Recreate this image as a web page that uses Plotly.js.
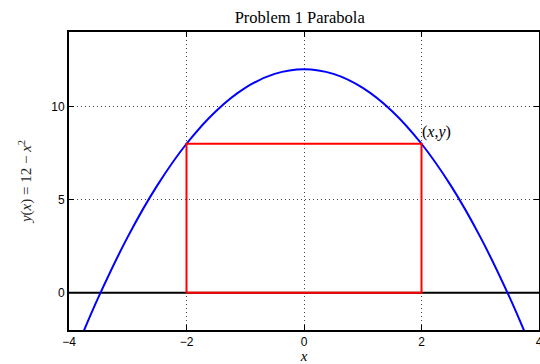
<!DOCTYPE html>
<html><head><meta charset="utf-8">
<script src="https://cdn.plot.ly/plotly-3.0.1.min.js"></script>
<style>html,body{margin:0;padding:0;background:#fff}#chart{width:540px;height:364px}</style>
</head><body><div id="chart"></div>
<script>
// Parabola points
const curveX = [-3.8, -3.5, -3, -2.5, -2, -1.5, -1, -0.5, 0, 0.5, 1, 1.5, 2, 2.5, 3, 3.5, 3.8];
const curveY = [-2.44, -0.25, 3, 5.75, 8, 9.75, 11, 11.75, 12, 11.75, 11, 9.75, 8, 5.75, 3, -0.25, -2.44];
// Inscribed rectangle corners
const rectX = [-2, -2, 2, 2, -2];
const rectY = [0, 8, 8, 0, 0];
// Horizontal axis line y = 0
const axisLineX = [-4, 4];
const axisLineY = [0, 0];
const xTicks = [-4, -2, 0, 2, 4];
const xTickText = ['\u22124', '\u22122', '0', '2', '4'];
const yTicks = [0, 5, 10];
const pointLabel = '(<i>x</i>,<i>y</i>)';

const traces = [
  {x: axisLineX, y: axisLineY, mode: 'lines', line: {color: '#000', width: 2}, hoverinfo: 'skip'},
  {x: curveX, y: curveY, mode: 'lines', line: {color: '#0000ff', width: 2, shape: 'spline', smoothing: 1}},
  {x: rectX, y: rectY, mode: 'lines', line: {color: '#ff0000', width: 2}}
];

const serif = 'Liberation Serif, DejaVu Serif, serif';
const sans = 'Liberation Sans, Arial, sans-serif';
const gridDash = '1px,3px';

const layout = {
  width: 540, height: 364,
  margin: {l: 69, r: 1, t: 32, b: 34},
  showlegend: false,
  paper_bgcolor: '#fff', plot_bgcolor: '#fff',
  title: {text: 'Problem 1 Parabola', font: {family: serif, size: 16.5, color: '#000'}, x: 0.555, xanchor: 'center', y: 0.952, yanchor: 'middle'},
  xaxis: {
    range: [-4, 4], tickvals: xTicks, ticktext: xTickText, ticklabeloverflow: 'allow',
    showgrid: true, gridcolor: '#444', griddash: gridDash, gridwidth: 1,
    zeroline: false, showline: true, linecolor: '#000', linewidth: 2, mirror: 'ticks',
    ticks: 'inside', ticklen: 5, tickcolor: '#000', tickwidth: 1,
    tickfont: {family: sans, size: 12, color: '#000'},
    title: {text: '<i>x</i>', font: {family: serif, size: 15, color: '#000'}, standoff: 6}
  },
  yaxis: {
    range: [-2, 14], tickvals: yTicks,
    showgrid: true, gridcolor: '#444', griddash: gridDash, gridwidth: 1,
    zeroline: false, showline: true, linecolor: '#000', linewidth: 2, mirror: 'ticks',
    ticks: 'inside', ticklen: 5, tickcolor: '#000', tickwidth: 1,
    tickfont: {family: sans, size: 12, color: '#000'},
    title: {text: '<i>y</i>(<i>x</i>) = 12 \u2212 <i>x</i><sup>2</sup>', font: {family: serif, size: 15, color: '#222'}, standoff: 16}
  },
  annotations: [{
    x: rectX[3], y: rectY[2], text: pointLabel, showarrow: false,
    xanchor: 'left', yanchor: 'bottom', xshift: -2, yshift: 1,
    font: {family: serif, size: 16, color: '#000'}
  }]
};

Plotly.newPlot('chart', traces, layout, {displayModeBar: false, staticPlot: true});
</script></body></html>
